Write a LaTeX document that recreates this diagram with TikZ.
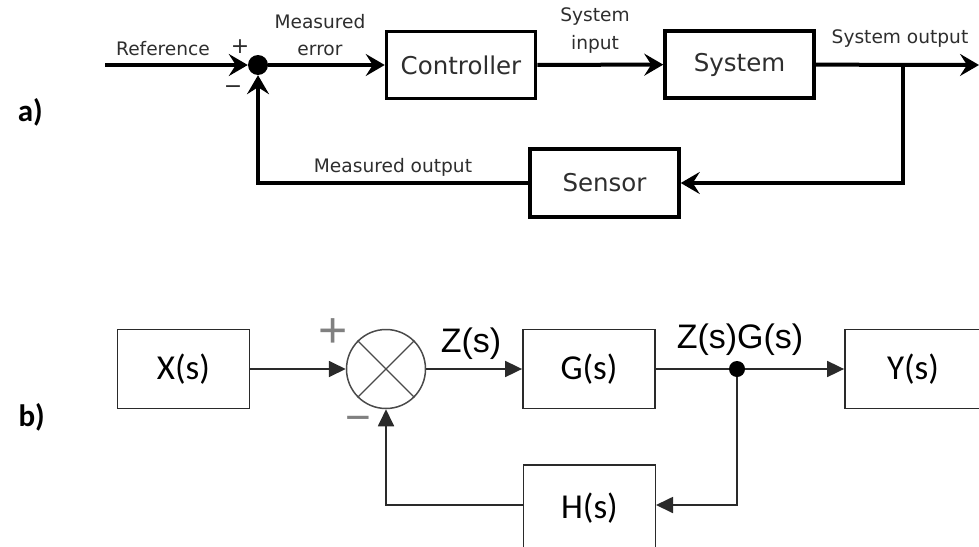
\documentclass[tikz,border=0pt]{standalone}
\usepackage{fontspec}
\setmainfont{DejaVu Sans}
\newfontfamily\djv{DejaVu Sans}
\newfontfamily\arial{Liberation Sans}
\newfontfamily\carl{Carlito}
\usetikzlibrary{arrows.meta}
\definecolor{txt}{HTML}{2E2E2E}
\definecolor{bline}{HTML}{2A2A2A}
\definecolor{sgn}{HTML}{808080}
\begin{document}
\begin{tikzpicture}[x=1pt,y=-1pt,
  tline/.style={line width=4pt},
  tarr/.style={line width=4pt,-{Stealth[length=19pt,width=22pt,inset=7pt]}},
  tbox/.style={draw, line width=3.5pt, minimum width=149pt, minimum height=67pt, inner sep=0pt, font=\djv\fontsize{24.5}{28}\selectfont, text=txt},
  tlabel/.style={font=\djv\fontsize{18.6}{27.5}\selectfont, text=txt, inner sep=0pt, align=center},
  bline/.style={line width=1.8pt, draw=bline},
  barr/.style={line width=1.8pt, draw=bline, -{Triangle[length=17pt,width=16pt]}},
  bbox/.style={draw=bline, line width=1.8pt, minimum width=132pt, minimum height=79pt, inner sep=0pt, font=\carl\fontsize{35}{40}\selectfont},
  blabel/.style={font=\arial\fontsize{34}{38}\selectfont, anchor=base, inner sep=0pt},
  plabel/.style={font=\carl\bfseries\fontsize{31}{34}\selectfont, anchor=east, inner sep=0pt}
]
\useasboundingbox[fill=white] (0,0) rectangle (979,546);

% ---------- a) ----------
\node[plabel] (la) at (43,112) {a)};
\coordinate (refstart) at (105,65);
\node[circle, fill=black, inner sep=0pt, minimum size=20pt] (sdot) at (258,65) {};
\node[tbox] (ctrl) at (461,65) {Controller};
\node[tbox] (sys) at (739.5,64.5) {System};
\node[tbox, minimum height=68pt] (sens) at (604.5,183) {Sensor};
\coordinate (br) at (903,65);
\coordinate (outend) at (979,65);

\draw[tarr] (refstart) -- (sdot);
\draw[tarr] (sdot) -- (ctrl);
\draw[tarr] (ctrl) -- (sys);
\draw[tarr] (sys) -- (outend);
\draw[tarr] (br) |- (sens);
\draw[tarr] (sens) -| (sdot);

\node[tlabel, anchor=base] (lref) at (163,55) {Reference};
\node[tlabel, anchor=north] (lerr) at (320,14) {Measured\\error};
\node[tlabel, anchor=north] (lin) at (595,7.5) {System\\input};
\node[tlabel, anchor=base] (lout) at (900,43) {System output};
\node[tlabel, anchor=base] (lmo) at (393,172) {Measured output};
\node[font=\djv\fontsize{22}{24}\selectfont, text=txt, inner sep=0pt] (plus1) at (240,47) {+};
\node[font=\djv\fontsize{22}{24}\selectfont, text=txt, inner sep=0pt] (minus1) at (233,90) {−};

% ---------- b) ----------
\node[plabel] (lb) at (45,417) {b)};
\node[bbox] (xs) at (183.5,369) {X(s)};
\node[circle, draw=bline!85, line width=1.5pt, minimum size=79pt, inner sep=0pt] (sum) at (386,369) {};
\draw[line width=1.2pt, draw=bline!85] (sum.north west) -- (sum.south east);
\draw[line width=1.2pt, draw=bline!85] (sum.north east) -- (sum.south west);
\node[bbox] (gs) at (589,369) {G(s)};
\node[bbox, minimum width=136pt] (ys) at (913,369) {Y(s)};
\node[bbox, minimum height=86pt] (hs) at (589.5,508) {H(s)};
\node[circle, fill=black, inner sep=0pt, minimum size=16pt] (bdot) at (737,369) {};
\coordinate (hin) at (656,505);

\draw[barr] (xs) -- (sum);
\draw[barr] (sum) -- (gs);
\draw[bline] (gs) -- (bdot);
\draw[barr] (bdot) -- (ys);
\draw[barr] (bdot) |- (hin);
\draw[barr] (hs.west |- hin) -| (sum);

\node[blabel] (lz) at (471,352) {Z(s)};
\node[blabel] (lzg) at (740,348) {Z(s)G(s)};
\node[font=\arial\fontsize{50}{54}\selectfont, text=sgn, inner sep=0pt] (plus2) at (333,333) {+};
\node[font=\arial\fontsize{44}{48}\selectfont, text=sgn, inner sep=0pt] (minus2) at (358,424) {−};
\end{tikzpicture}
\end{document}
